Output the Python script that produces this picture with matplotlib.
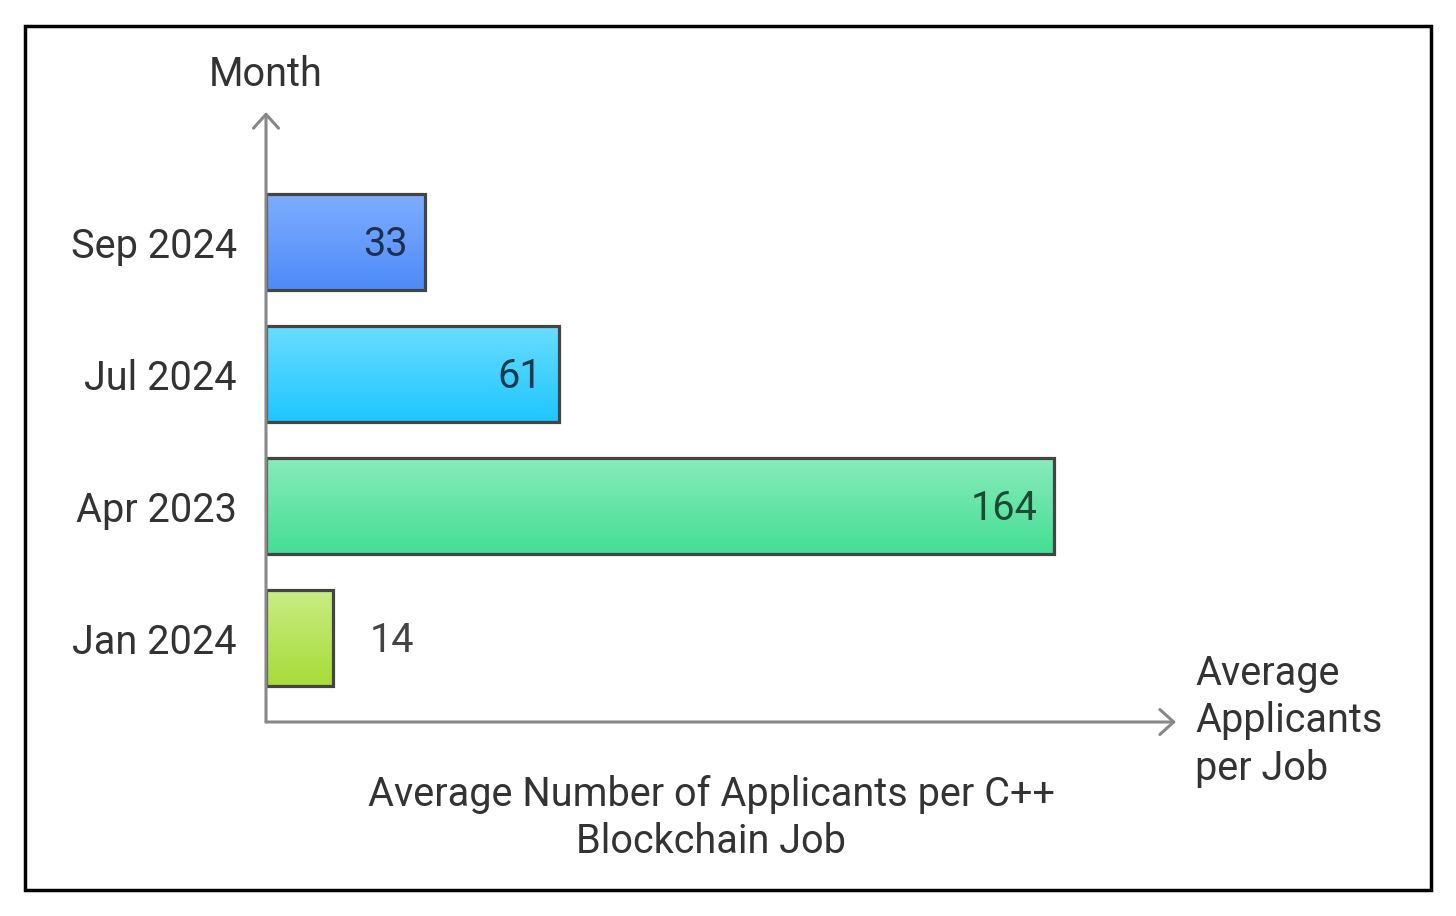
import matplotlib.pyplot as plt
import numpy as np
from matplotlib.colors import to_rgb
from matplotlib.patches import Rectangle

plt.rcParams["font.family"] = ["Roboto", "DejaVu Sans"]

months = ["Jan 2024", "Apr 2023", "Jul 2024", "Sep 2024"]
applicants = [14, 164, 61, 33]
top_colors = ["#c9ec84", "#88ebbb", "#6adcff", "#7eadff"]
bottom_colors = ["#a6dc38", "#44de94", "#1ec6ff", "#4e8bf7"]
value_colors = ["#444444", "#1d4a35", "#113a4c", "#1e3052"]

FS = 28.5

fig = plt.figure(figsize=(14.56, 9.16), dpi=100)
ax = fig.add_axes([266 / 1456, 194 / 916, 910 / 1456, 610 / 916])

xmax = 910 / (788 / 164)
ax.set_xlim(0, xmax)
ax.set_ylim(-84 / 132, 526 / 132)
bar_h = 96 / 132

for i, (m, v) in enumerate(zip(months, applicants)):
    bar = ax.barh(i, v, height=bar_h, facecolor="none", edgecolor="#444444",
                  linewidth=2.3, zorder=3)[0]
    c1 = np.array(to_rgb(top_colors[i]))
    c2 = np.array(to_rgb(bottom_colors[i]))
    t = np.linspace(0, 1, 64)[:, None, None]
    grad = c1 * (1 - t) + c2 * t
    img = ax.imshow(grad, extent=(0, v, i - bar_h / 2, i + bar_h / 2),
                    origin="upper", aspect="auto", zorder=2)
    img.set_clip_path(bar)
    if v > 20:
        ax.annotate(str(v), (v, i), xytext=(-12, 1), textcoords="offset points",
                    ha="right", va="center_baseline", fontsize=FS,
                    color=value_colors[i], zorder=4)
    else:
        ax.annotate(str(v), (v, i), xytext=(26, 1), textcoords="offset points",
                    ha="left", va="center_baseline", fontsize=FS,
                    color=value_colors[i], zorder=4)

ax.set_xlim(0, xmax)
ax.set_ylim(-84 / 132, 526 / 132)
ax.set_yticks(range(len(months)), months)
ax.set_xticks([])
ax.tick_params(axis="y", length=0, pad=21, labelsize=FS, labelcolor="#333333")
for lbl in ax.get_yticklabels():
    lbl.set_verticalalignment("center_baseline")
for s in ax.spines.values():
    s.set_visible(False)

arrow = dict(arrowstyle="->,head_length=0.5,head_width=0.45", color="#888888",
             lw=2.2, mutation_scale=20, shrinkA=0, shrinkB=0)
ax.annotate("", xy=(1, 0), xytext=(0, 0), xycoords="axes fraction", arrowprops=arrow)
ax.annotate("", xy=(0, 1), xytext=(0, 0), xycoords="axes fraction", arrowprops=arrow)

fig.text(266 / 1456, 1 - 75 / 916, "Month", ha="center", va="center",
         fontsize=FS, color="#333333")
fig.text(1195 / 1456, 1 - 721 / 916, "Average\nApplicants\nper Job", ha="left",
         va="center", fontsize=FS, color="#333333", linespacing=1.28)
fig.text(711 / 1456, 1 - 818 / 916, "Average Number of Applicants per C++\nBlockchain Job",
         ha="center", va="center", fontsize=FS, color="#333333", linespacing=1.28)

fig.patches.append(Rectangle((25 / 1456, 26 / 916), 1406 / 1456, 864 / 916,
                             transform=fig.transFigure, fill=False,
                             edgecolor="black", linewidth=2.5))

fig.savefig("out.png", dpi=100)
